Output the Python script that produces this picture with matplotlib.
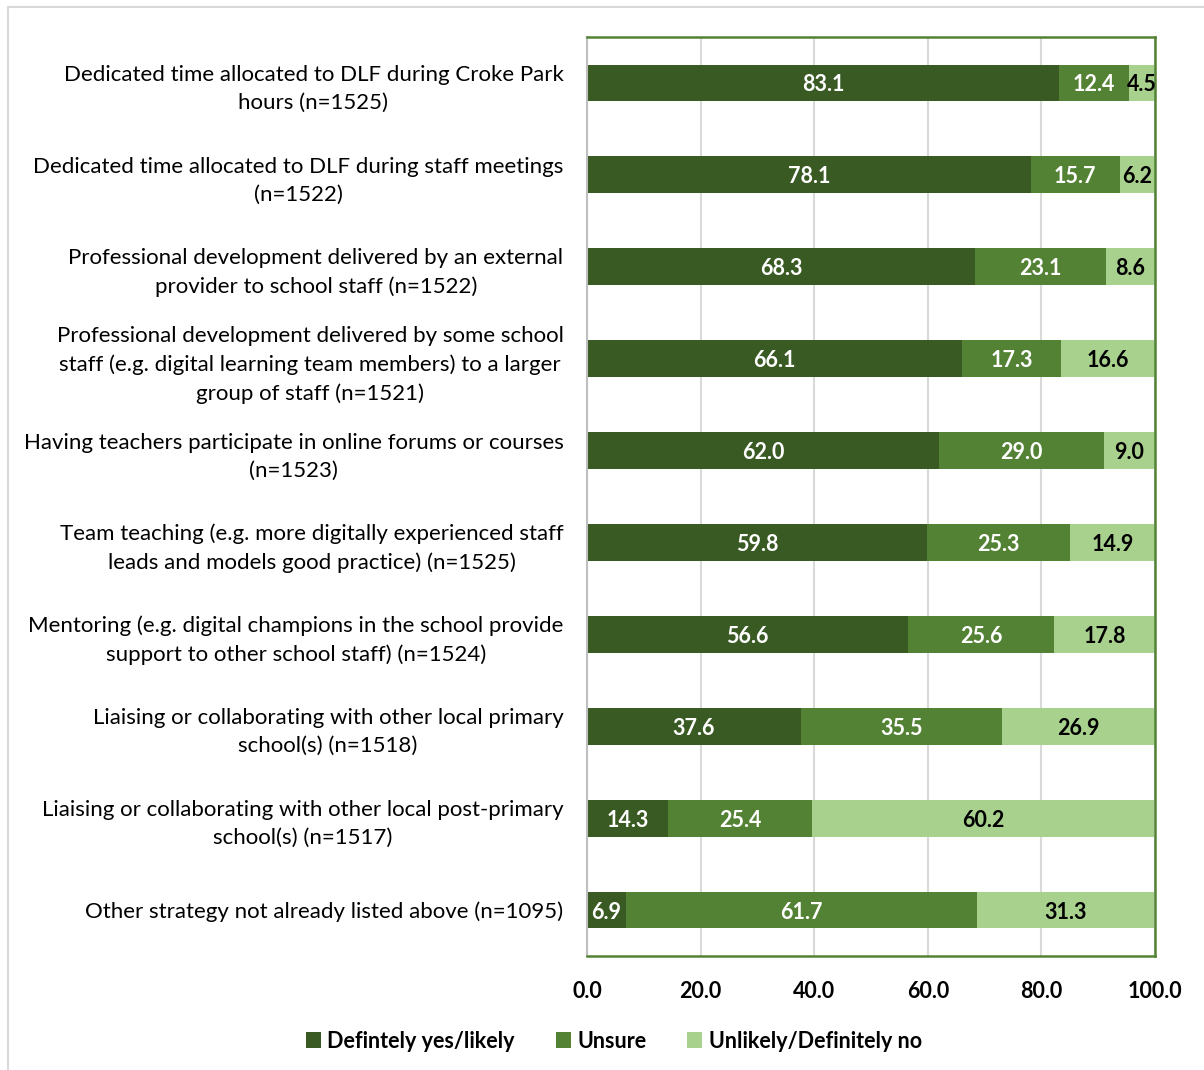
import matplotlib.pyplot as plt
from matplotlib.patches import Rectangle

plt.rcParams['font.family'] = ['Lato', 'DejaVu Sans']

strategies = [
    "Dedicated time allocated to DLF during Croke Park\nhours (n=1525)",
    "Dedicated time allocated to DLF during staff meetings\n(n=1522)",
    "Professional development delivered by an external\nprovider to school staff (n=1522)",
    "Professional development delivered by some school\nstaff (e.g. digital learning team members) to a larger\ngroup of staff (n=1521)",
    "Having teachers participate in online forums or courses\n(n=1523)",
    "Team teaching (e.g. more digitally experienced staff\nleads and models good practice) (n=1525)",
    "Mentoring (e.g. digital champions in the school provide\nsupport to other school staff) (n=1524)",
    "Liaising or collaborating with other local primary\nschool(s) (n=1518)",
    "Liaising or collaborating with other local post-primary\nschool(s) (n=1517)",
    "Other strategy not already listed above (n=1095)",
]
yes_likely = [83.1, 78.1, 68.3, 66.1, 62.0, 59.8, 56.6, 37.6, 14.3, 6.9]
unsure = [12.4, 15.7, 23.1, 17.3, 29.0, 25.3, 25.6, 35.5, 25.4, 61.7]
unlikely_no = [4.5, 6.2, 8.6, 16.6, 9.0, 14.9, 17.8, 26.9, 60.2, 31.3]

series = [
    ("Defintely yes/likely", yes_likely, "#3a5a24", "white"),
    ("Unsure", unsure, "#548235", "white"),
    ("Unlikely/Definitely no", unlikely_no, "#a9d18e", "black"),
]

fig = plt.figure(figsize=(12.04, 10.70), dpi=100)
ax = fig.add_axes([587 / 1204, 1 - 956 / 1070, 568 / 1204, 919 / 1070])

# light grey chart frame
fig.patches.append(Rectangle((8 / 1204, -0.01), 1.1, 1 - 7 / 1070 + 0.01,
                             transform=fig.transFigure, fill=False,
                             edgecolor="#d9d9d9", linewidth=1.5))

y = list(range(len(strategies)))
left = [0.0] * len(strategies)
for name, vals, color, txt in series:
    bars = ax.barh(y, vals, left=left, height=0.4, color=color, label=name)
    for b, v in zip(bars, vals):
        ax.text(b.get_x() + b.get_width() / 2, b.get_y() + b.get_height() / 2,
                f"{v:.1f}", ha="center", va="center_baseline", color=txt,
                fontsize=15.5, fontweight="bold")
    left = [l + v for l, v in zip(left, vals)]

ax.set_xlim(0, 100)
ax.set_ylim(len(strategies) - 0.5, -0.5)
ax.set_xticks(range(0, 101, 20))
ax.set_xticklabels([f"{t:.1f}" for t in range(0, 101, 20)],
                   fontsize=15.5, fontweight="bold")
ax.set_yticks(y)
ax.set_yticklabels(strategies, fontsize=16, linespacing=1.5,
                   ha="right", multialignment="center")
ax.tick_params(axis="y", length=0, pad=17)
ax.tick_params(axis="x", length=0, pad=18)
ax.xaxis.grid(True, color="#d9d9d9", linewidth=1.5)
ax.set_axisbelow(True)

for side in ["top", "right", "bottom"]:
    ax.spines[side].set_color("#548235")
    ax.spines[side].set_linewidth(1.8)
ax.spines["left"].set_color("#bfbfbf")
ax.spines["left"].set_linewidth(1.5)

ax.legend(loc="center", ncol=3, frameon=False,
          bbox_to_anchor=(614 / 1204, 1 - 1041 / 1070),
          bbox_transform=fig.transFigure,
          prop={"size": 15.5, "weight": "bold"}, handlelength=0.7,
          handleheight=0.7, handletextpad=0.3, columnspacing=1.9)

fig.savefig("out.png", dpi=100)
